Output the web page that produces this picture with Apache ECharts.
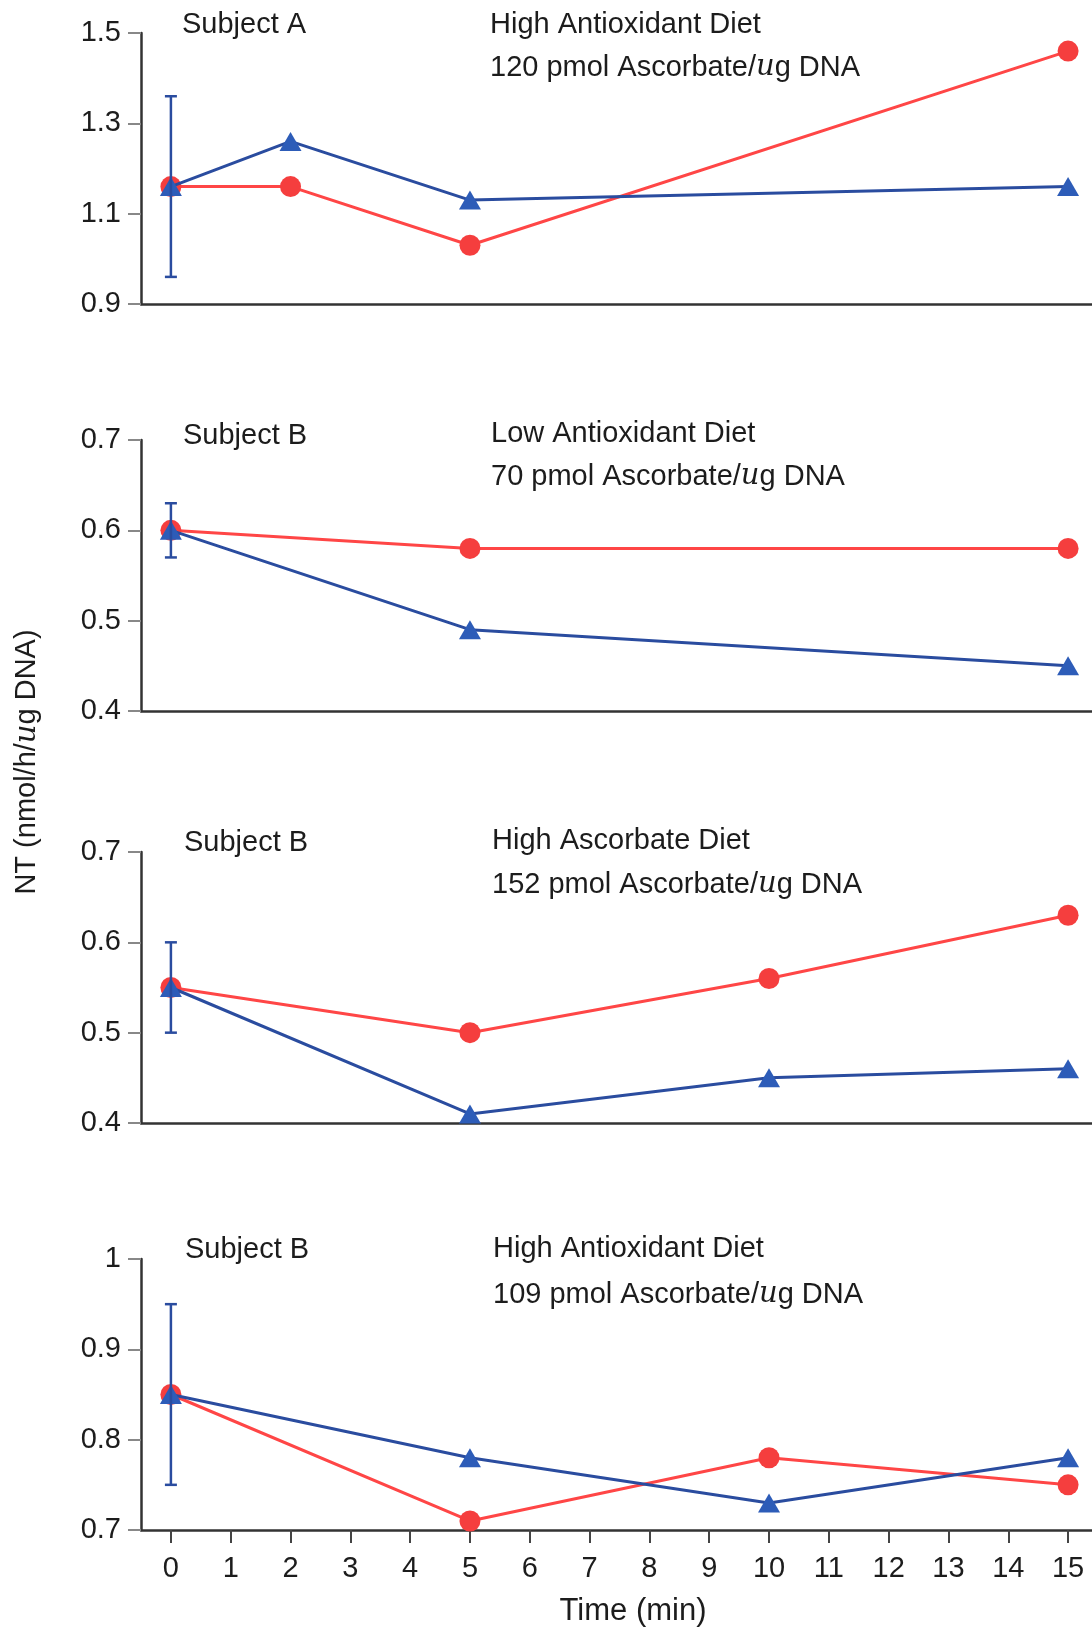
<!DOCTYPE html>
<html>
<head>
<meta charset="utf-8">
<title>NT over time</title>
<script src="https://cdn.jsdelivr.net/npm/echarts@6/dist/echarts.min.js"></script>
<style>
  html, body { margin: 0; padding: 0; background: #ffffff; }
  #chart { width: 1092px; height: 1628px; }
</style>
</head>
<body>
<div id="chart"></div>
<script>
// Time axis ticks (minutes)
const xTicks = [0, 1, 2, 3, 4, 5, 6, 7, 8, 9, 10, 11, 12, 13, 14, 15];

// Panel 1: Subject A, high antioxidant diet
const timesA = [0, 2, 5, 15];
const redA = [1.16, 1.16, 1.03, 1.46];
const blueA = [1.16, 1.26, 1.13, 1.16];
const errA = [0, 0.96, 1.36];

// Panel 2: Subject B, low antioxidant diet
const timesB1 = [0, 5, 15];
const redB1 = [0.60, 0.58, 0.58];
const blueB1 = [0.60, 0.49, 0.45];
const errB1 = [0, 0.57, 0.63];

// Panel 3: Subject B, high ascorbate diet
const timesB2 = [0, 5, 10, 15];
const redB2 = [0.55, 0.50, 0.56, 0.63];
const blueB2 = [0.55, 0.41, 0.45, 0.46];
const errB2 = [0, 0.50, 0.60];

// Panel 4: Subject B, high antioxidant diet
const timesB3 = [0, 5, 10, 15];
const redB3 = [0.85, 0.71, 0.78, 0.75];
const blueB3 = [0.85, 0.78, 0.73, 0.78];
const errB3 = [0, 0.75, 0.95];

// Y-axis ranges per panel
const yMins = [0.9, 0.4, 0.4, 0.7];
const yMaxs = [1.5, 0.7, 0.7, 1.0];
const ySteps = [0.2, 0.1, 0.1, 0.1];

// Panel captions
const subjects = ['Subject A', 'Subject B', 'Subject B', 'Subject B'];
const diets = ['High Antioxidant Diet', 'Low Antioxidant Diet', 'High Ascorbate Diet', 'High Antioxidant Diet'];
const ascorbate = ['120', '70', '152', '109'];

const panels = [
  { t: timesA, r: redA, b: blueA, e: errA },
  { t: timesB1, r: redB1, b: blueB1, e: errB1 },
  { t: timesB2, r: redB2, b: blueB2, e: errB2 },
  { t: timesB3, r: redB3, b: blueB3, e: errB3 }
];

const FONT = '"Liberation Sans", Arial, Helvetica, sans-serif';
const SERIF = '"DejaVu Serif", "Liberation Serif", serif';
const TXT = '#1c1c1c';
const RED_LINE = '#ff4646';
const RED_DOT = '#f53e3e';
const BLUE_LINE = '#2a4c9f';
const BLUE_TRI = '#2d5cb8';
const FS = 29;

const gridTops = [33, 440, 852, 1259];
const gridH = 271;
const captionY = [[26, 26, 69], [437, 435, 478], [844, 842, 886], [1251, 1250, 1296]];

const grids = [], xAxes = [], yAxes = [], series = [], graphics = [];

panels.forEach((p, i) => {
  const last = i === panels.length - 1;
  grids.push({ left: 141, right: 0, top: gridTops[i], height: gridH });

  xAxes.push({
    type: 'value', gridIndex: i, min: -0.5, max: 15.4,
    splitLine: { show: false },
    axisLine: { show: true, onZero: false, lineStyle: { color: '#333333', width: 2.5 } },
    axisTick: last
      ? { show: true, customValues: xTicks, length: 13, lineStyle: { color: '#444444', width: 2 } }
      : { show: false },
    axisLabel: last
      ? { show: true, customValues: xTicks, fontSize: FS, color: TXT, fontFamily: FONT, margin: 24 }
      : { show: false }
  });

  yAxes.push({
    type: 'value', gridIndex: i, min: yMins[i], max: yMaxs[i], interval: ySteps[i],
    splitLine: { show: false },
    axisLine: { show: true, onZero: false, lineStyle: { color: '#333333', width: 2.5 } },
    axisTick: { show: true, length: 13, lineStyle: { color: '#888888', width: 2 } },
    axisLabel: {
      fontSize: FS, color: TXT, fontFamily: FONT, margin: 20,
      formatter: v => String(Math.round(v * 10) / 10)
    }
  });

  series.push({
    type: 'line', xAxisIndex: i, yAxisIndex: i,
    data: p.t.map((t, k) => [t, p.r[k]]),
    symbol: 'circle', symbolSize: 21,
    itemStyle: { color: RED_DOT },
    lineStyle: { color: RED_LINE, width: 3 },
    z: 2
  });

  series.push({
    type: 'line', xAxisIndex: i, yAxisIndex: i,
    data: p.t.map((t, k) => [t, p.b[k]]),
    symbol: 'triangle', symbolSize: [22, 19],
    itemStyle: { color: BLUE_TRI },
    lineStyle: { color: BLUE_LINE, width: 3 },
    z: 3
  });

  // Error bar at baseline
  series.push({
    type: 'custom', xAxisIndex: i, yAxisIndex: i,
    data: [p.e],
    encode: { x: 0, y: [1, 2] },
    z: 4,
    renderItem: (params, api) => {
      const x = api.value(0);
      const lo = api.coord([x, api.value(1)]);
      const hi = api.coord([x, api.value(2)]);
      const cap = 6;
      const st = { stroke: BLUE_LINE, lineWidth: 2.5 };
      return {
        type: 'group',
        children: [
          { type: 'line', shape: { x1: hi[0], y1: hi[1], x2: lo[0], y2: lo[1] }, style: st },
          { type: 'line', shape: { x1: hi[0] - cap, y1: hi[1], x2: hi[0] + cap, y2: hi[1] }, style: st },
          { type: 'line', shape: { x1: lo[0] - cap, y1: lo[1], x2: lo[0] + cap, y2: lo[1] }, style: st }
        ]
      };
    }
  });

  // Captions
  const cy = captionY[i];
  graphics.push({
    type: 'text', left: 182 + i, top: cy[0] - 16,
    style: { text: subjects[i], font: FS + 'px ' + FONT, fill: TXT }
  });
  graphics.push({
    type: 'text', left: 490 + i, top: cy[1] - 16,
    style: { text: diets[i], font: FS + 'px ' + FONT, fill: TXT }
  });
  graphics.push({
    type: 'text', left: 490 + i, top: cy[2] - 16,
    style: {
      text: '{a|' + ascorbate[i] + ' pmol Ascorbate/}{u|u}{a|g DNA}',
      rich: {
        a: { fontSize: FS, fontFamily: FONT, fill: TXT, color: TXT },
        u: { fontSize: FS, fontFamily: SERIF, fontStyle: 'italic', fill: TXT, color: TXT }
      }
    }
  });
});

// Axis titles
graphics.push({
  type: 'text', x: 633, y: 1611,
  style: { text: 'Time (min)', font: '31px ' + FONT, fill: TXT, align: 'center', verticalAlign: 'middle' }
});
graphics.push({
  type: 'text', x: 27, y: 762, rotation: Math.PI / 2,
  style: {
    text: '{a|NT (nmol/h/}{u|u}{a|g DNA)}',
    align: 'center', verticalAlign: 'middle',
    rich: {
      a: { fontSize: FS, fontFamily: FONT, fill: TXT, color: TXT },
      u: { fontSize: FS, fontFamily: SERIF, fontStyle: 'italic', fill: TXT, color: TXT }
    }
  }
});

const chart = echarts.init(document.getElementById('chart'), null, { renderer: 'canvas' });
chart.setOption({
  backgroundColor: '#ffffff',
  animation: false,
  grid: grids,
  xAxis: xAxes,
  yAxis: yAxes,
  series: series,
  graphic: graphics
});
</script>
</body>
</html>
